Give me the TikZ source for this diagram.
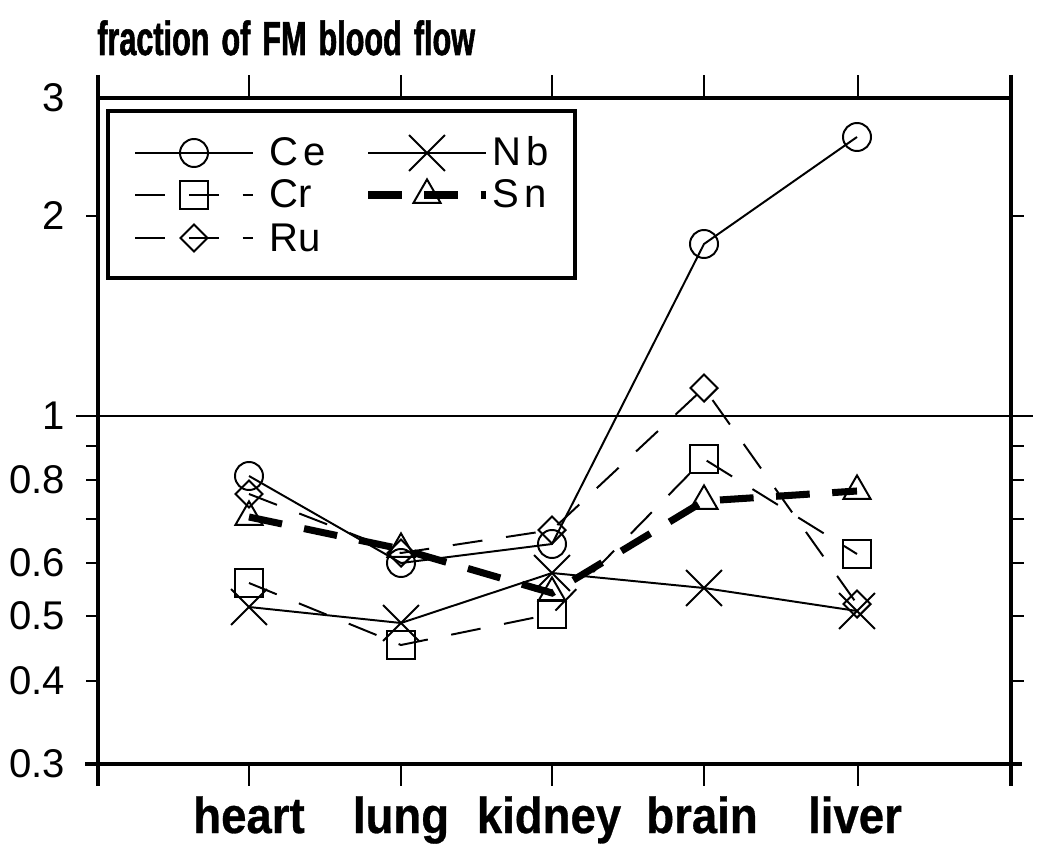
\documentclass[tikz,border=0pt]{standalone}
\usepackage{fontspec}
\setmainfont{Liberation Sans}
\newfontfamily\condfont{Liberation Sans}[FakeStretch=0.64, FakeBold=1.2]
\newfontfamily\labfont{Liberation Sans}[FakeStretch=0.9, FakeBold=0.6]
\usetikzlibrary{shapes.geometric,shapes.misc}
\tikzset{
	frameline/.style={line width=2.5pt, line cap=butt},
	tickline/.style={line width=2pt},
	thinline/.style={line width=1.4pt},
	dashline/.style={line width=1.4pt, dash pattern=on 21.3pt off 17pt},
	snline/.style={line width=5pt, dash pattern=on 24pt off 16pt},
	cemark/.style={circle, draw, line width=1.4pt, minimum size=0.7cm, inner sep=0pt},
	crmark/.style={rectangle, draw, line width=1.4pt, minimum size=0.7cm, inner sep=0pt},
	rumark/.style={diamond, draw, line width=1.4pt, minimum width=0.7cm, minimum height=0.7cm, inner sep=0pt},
	nbmark/.style={cross out, draw, line width=1.4pt, minimum size=0.85cm, inner sep=0pt},
	snmark/.style={regular polygon, regular polygon sides=3, draw, line width=1.4pt, minimum size=0.78cm, inner sep=0pt},
	ylab/.style={anchor=east, font=\fontsize{28.5}{30}\selectfont},
	xlab/.style={anchor=base, font=\fontsize{36}{38}\selectfont\labfont\bfseries},
	leglab/.style={anchor=base west, font=\fontsize{28.5}{30}\selectfont}
}

\begin{document}
\begin{tikzpicture}[x=0.025cm, y=-0.025cm]
	%%%%% START %%%%%
	\useasboundingbox[fill=white] (0, 0) rectangle (1050, 853);
	
	% title
	\node[anchor=base west, inner sep=0pt, font=\fontsize{34}{36}\selectfont\condfont\bfseries] (title) at (97, 55) {fraction\hspace{0.3cm}of\hspace{0.3cm}FM\hspace{0.3cm}blood\hspace{0.3cm}flow};
	
	% frame
	\draw[frameline] (98, 75) -- (98, 786);
	\draw[frameline] (1011, 75) -- (1011, 786);
	\draw[frameline] (98, 98) -- (1011, 98);
	\draw[frameline] (85, 764) -- (1022, 764);
	\draw[line width=1pt] (98, 416) -- (1011, 416);
	
	% ticks top and bottom
	\draw[tickline] (249, 98) -- (249, 75);
	\draw[tickline] (401, 98) -- (401, 75);
	\draw[tickline] (552, 98) -- (552, 75);
	\draw[tickline] (704, 98) -- (704, 75);
	\draw[tickline] (858, 98) -- (858, 75);
	\draw[tickline] (249, 764) -- (249, 786);
	\draw[tickline] (401, 764) -- (401, 786);
	\draw[tickline] (552, 764) -- (552, 786);
	\draw[tickline] (704, 764) -- (704, 786);
	\draw[tickline] (858, 764) -- (858, 786);
	
	% ticks left and right
	\draw[tickline] (98, 216) -- (86, 216);
	\draw[tickline] (98, 416) -- (76, 416);
	\draw[tickline] (98, 446) -- (86, 446);
	\draw[tickline] (98, 480) -- (86, 480);
	\draw[tickline] (98, 519) -- (86, 519);
	\draw[tickline] (98, 563) -- (86, 563);
	\draw[tickline] (98, 616) -- (86, 616);
	\draw[tickline] (98, 681) -- (86, 681);
	\draw[tickline] (1011, 216) -- (1024, 216);
	\draw[tickline] (1011, 416) -- (1033, 416);
	\draw[tickline] (1011, 446) -- (1024, 446);
	\draw[tickline] (1011, 480) -- (1024, 480);
	\draw[tickline] (1011, 519) -- (1024, 519);
	\draw[tickline] (1011, 563) -- (1024, 563);
	\draw[tickline] (1011, 616) -- (1024, 616);
	\draw[tickline] (1011, 681) -- (1024, 681);
	
	% y labels
	\node[ylab] (y3) at (70, 98) {3};
	\node[ylab] (y2) at (70, 216) {2};
	\node[ylab] (y1) at (70, 416) {1};
	\node[ylab] (y08) at (70, 480) {0.8};
	\node[ylab] (y06) at (70, 563) {0.6};
	\node[ylab] (y05) at (70, 616) {0.5};
	\node[ylab] (y04) at (70, 681) {0.4};
	\node[ylab] (y03) at (70, 764) {0.3};
	
	% x labels
	\node[xlab] (heart) at (249, 833) {heart};
	\node[xlab] (lung) at (401, 833) {lung};
	\node[xlab] (kidney) at (549, 833) {kidney};
	\node[xlab] (brain) at (702, 833) {brain};
	\node[xlab] (liver) at (855, 833) {liver};
	
	% legend
	\draw[line width=2.2pt] (108, 111) rectangle (575, 278);
	\coordinate (legce) at (194, 153);
	\coordinate (legcr) at (194, 195);
	\coordinate (legru) at (194, 238);
	\coordinate (legnb) at (427, 153);
	\coordinate (legsn) at (427, 195);
	\draw[thinline] (135, 153) -- (253, 153);
	\draw[dashline] (135, 195) -- (253, 195);
	\draw[dashline] (135, 238) -- (253, 238);
	\draw[thinline] (368, 153) -- (486, 153);
	\draw[snline] (368, 195) -- (486, 195);
	\node[cemark] at (legce) {};
	\node[crmark] at (legcr) {};
	\node[rumark] at (legru) {};
	\node[nbmark] at (legnb) {};
	\node[snmark] at (legsn) {};
	\node[leglab] (lce) at (265, 166) {C\kern0.12em e};
	\node[leglab] (lcr) at (265, 208) {Cr};
	\node[leglab] (lru) at (265, 251) {Ru};
	\node[leglab] (lnb) at (488, 166) {N\kern0.12em b};
	\node[leglab] (lsn) at (488, 208) {S\kern0.12em n};
	
	% data points
	\coordinate (ce1) at (249, 476);
	\coordinate (ce2) at (401, 563);
	\coordinate (ce3) at (552, 544);
	\coordinate (ce4) at (704, 244);
	\coordinate (ce5) at (857, 137);
	\coordinate (cr1) at (249, 583);
	\coordinate (cr2) at (401, 645);
	\coordinate (cr3) at (552, 614);
	\coordinate (cr4) at (704, 459);
	\coordinate (cr5) at (857, 554);
	\coordinate (ru1) at (249, 494);
	\coordinate (ru2) at (401, 553);
	\coordinate (ru3) at (552, 530);
	\coordinate (ru4) at (704, 388);
	\coordinate (ru5) at (857, 604);
	\coordinate (nb1) at (249, 607);
	\coordinate (nb2) at (401, 623);
	\coordinate (nb3) at (552, 573);
	\coordinate (nb4) at (704, 588);
	\coordinate (nb5) at (857, 611);
	\coordinate (sn1) at (249, 517);
	\coordinate (sn2) at (401, 549);
	\coordinate (sn3) at (552, 593);
	\coordinate (sn4) at (704, 501);
	\coordinate (sn5) at (857, 491);
	
	\draw[thinline] (ce1) -- (ce2) -- (ce3) -- (ce4) -- (ce5);
	\draw[dashline] (cr1) -- (cr2) -- (cr3) -- (cr4) -- (cr5);
	\draw[dashline] (ru1) -- (ru2) -- (ru3) -- (ru4) -- (ru5);
	\draw[thinline] (nb1) -- (nb2) -- (nb3) -- (nb4) -- (nb5);
	\draw[snline] (sn1) -- (sn2) -- (sn3) -- (sn4) -- (sn5);
	
	\node[cemark] at (ce1) {};
	\node[cemark] at (ce2) {};
	\node[cemark] at (ce3) {};
	\node[cemark] at (ce4) {};
	\node[cemark] at (ce5) {};
	\node[crmark] at (cr1) {};
	\node[crmark] at (cr2) {};
	\node[crmark] at (cr3) {};
	\node[crmark] at (cr4) {};
	\node[crmark] at (cr5) {};
	\node[rumark] at (ru1) {};
	\node[rumark] at (ru2) {};
	\node[rumark] at (ru3) {};
	\node[rumark] at (ru4) {};
	\node[rumark] at (ru5) {};
	\node[nbmark] at (nb1) {};
	\node[nbmark] at (nb2) {};
	\node[nbmark] at (nb3) {};
	\node[nbmark] at (nb4) {};
	\node[nbmark] at (nb5) {};
	\node[snmark] at (sn1) {};
	\node[snmark] at (sn2) {};
	\node[snmark] at (sn3) {};
	\node[snmark] at (sn4) {};
	\node[snmark] at (sn5) {};
	
	%%%%% END %%%%%
\end{tikzpicture}
\end{document}
